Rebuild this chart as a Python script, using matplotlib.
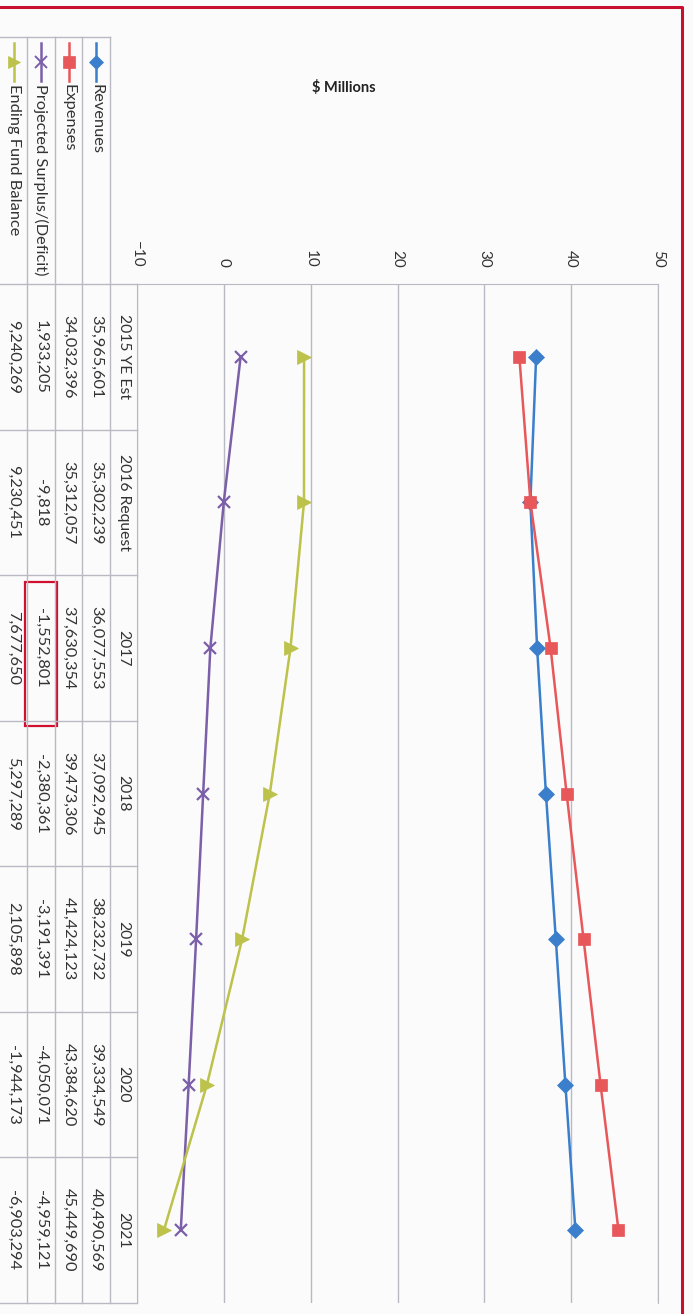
import matplotlib.pyplot as plt
from matplotlib.transforms import blended_transform_factory
from matplotlib.patches import Rectangle

# chart data (dollars), one value per category
categories = ["2015 YE Est", "2016 Request", "2017", "2018", "2019", "2020", "2021"]
revenues = [35965601, 35302239, 36077553, 37092945, 38232732, 39334549, 40490569]
expenses = [34032396, 35312057, 37630354, 39473306, 41424123, 43384620, 45449690]
surplus = [1933205, -9818, -1552801, -2380361, -3191391, -4050071, -4959121]
ending_balance = [9240269, 9230451, 7677650, 5297289, 2105898, -1944173, -6903294]
value_ticks = [-10, 0, 10, 20, 30, 40, 50]

series = [
    ("Revenues", revenues, "#3b7fcc", "D", 8),
    ("Expenses", expenses, "#e8575a", "s", 9),
    ("Projected Surplus/(Deficit)", surplus, "#7b5fa8", "x", 9),
    ("Ending Fund Balance", ending_balance, "#bcc24a", ">", 10),
]

W, H = 693, 1314
plt.rcParams["font.family"] = ["Lato", "DejaVu Sans"]
grid_col = "#b9b9c3"
text_col = "#333333"

fig = plt.figure(figsize=(W / 100, H / 100), dpi=100)
fig.patch.set_facecolor("#fbfbfb")

# pixel overlay for the table, frame and labels
bg = fig.add_axes([0, 0, 1, 1])
bg.set_xlim(0, W)
bg.set_ylim(H, 0)
bg.axis("off")
bg.set_zorder(0)

# plot area (chart is shown turned a quarter turn clockwise)
px0, px1, py0, py1 = 137, 658, 284, 1303
ax = fig.add_axes([px0 / W, 1 - py1 / H, (px1 - px0) / W, (py1 - py0) / H])
ax.set_zorder(1)
ax.patch.set_alpha(0)
ax.set_xlim(-10, 50)
ax.set_ylim(len(categories) - 0.5, -0.5)

cats = list(range(len(categories)))
for name, vals, col, mk, ms in series:
    ax.plot([v / 1e6 for v in vals], cats, color=col, lw=1.8, marker=mk,
            markersize=ms, mew=1.6 if mk == "x" else 0.5, mec=col, mfc=col, zorder=3)

ax.xaxis.tick_top()
ax.set_xticks(value_ticks)
ax.tick_params(axis="x", length=0, pad=12, labelrotation=-90, labelsize=11, labelcolor=text_col)
ax.set_yticks(cats)
ax.tick_params(axis="y", length=0, labelleft=False)
ax.grid(axis="x", color=grid_col, lw=1)
for s in ["top", "left", "right"]:
    ax.spines[s].set_color(grid_col)
ax.spines["bottom"].set_visible(False)

fig.text(344 / W, 1 - 87 / H, "$ Millions", ha="center", va="center",
         fontsize=10.5, fontweight="bold", color="#222222")

# data table on the left
col_edges = [0, 27, 55, 82, 110, 137]
row_w = (py1 - py0) / len(categories)
for x in col_edges[1:5]:
    bg.plot([x, x], [37, py1], color=grid_col, lw=1)
bg.plot([0, 110], [37, 37], color=grid_col, lw=1)
for k in range(len(categories) + 1):
    y = py0 + k * row_w
    bg.plot([0, px0], [y, y], color=grid_col, lw=1)

mix = blended_transform_factory(bg.transData, ax.transData)
for i, c in enumerate(categories):
    ax.text((col_edges[4] + col_edges[5]) / 2, i, c, transform=mix, rotation=-90,
            ha="center", va="center", fontsize=11.3, color=text_col)

# columns from the plot outwards: revenues, expenses, surplus, ending balance
for j, (name, vals, col, mk, ms) in enumerate(series):
    xc = (col_edges[3 - j] + col_edges[4 - j]) / 2
    bg.plot([xc, xc], [43, 81], color=col, lw=1.8)
    bg.plot([xc], [62], color=col, marker=mk, markersize=ms - 1,
            mew=1.4 if mk == "x" else 0.5, mec=col, mfc=col)
    bg.text(xc, 84, name, rotation=-90, ha="center", va="top", fontsize=11.8, color=text_col)
    for i, v in enumerate(vals):
        ax.text(xc, i, f"{v:,}", transform=mix, rotation=-90,
                ha="center", va="center", fontsize=11.8, color=text_col)

# red highlight around the 2017 deficit
bg.add_patch(Rectangle((25, 582), 32, 144, fill=False, ec="#d0102e", lw=1.6))

# red frame along the top and right edge
bg.plot([0, 682, 682], [7, 7, H], color="#c8102e", lw=2.2)

fig.savefig("out.png", dpi=100, facecolor=fig.get_facecolor())
